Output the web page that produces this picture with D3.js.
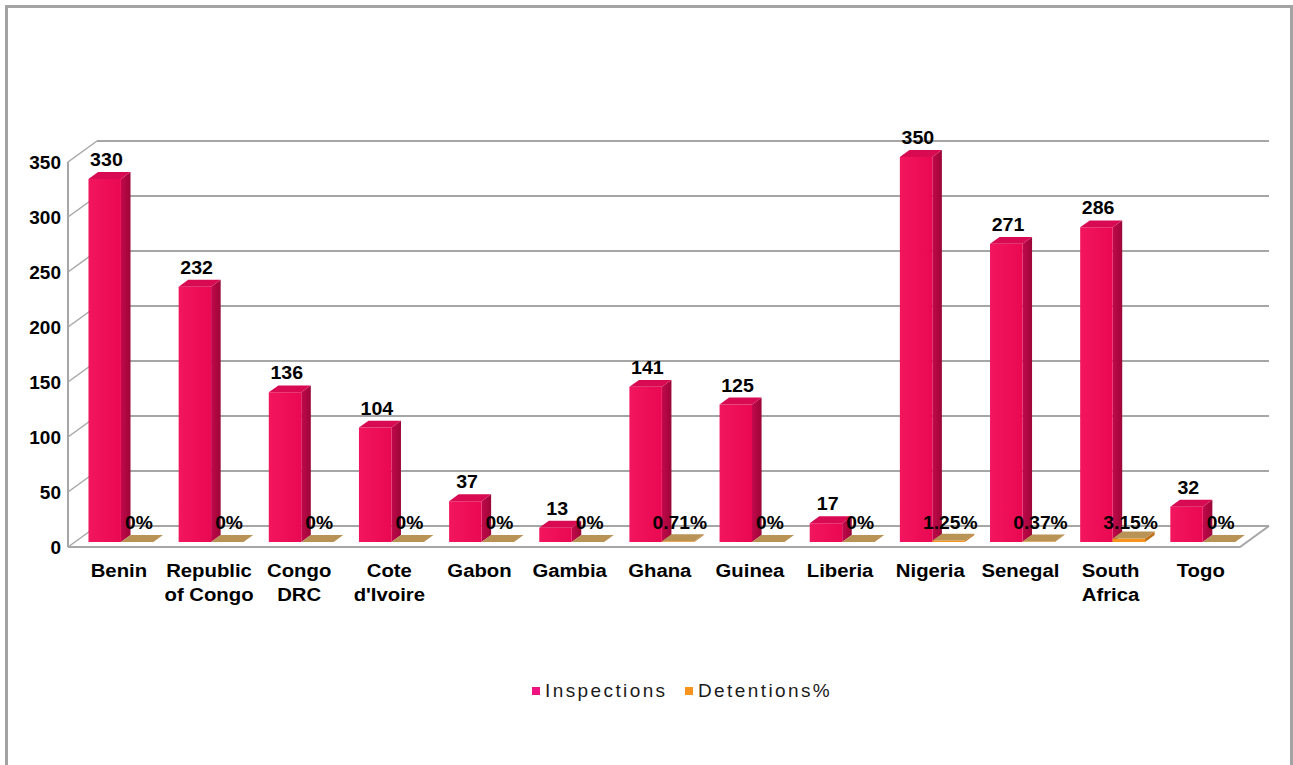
<!DOCTYPE html>
<html>
<head>
<meta charset="utf-8">
<script src="https://cdn.jsdelivr.net/npm/d3@7/dist/d3.min.js"></script>
<style>
  html, body { margin: 0; padding: 0; background: #ffffff; }
  svg { display: block; }
</style>
</head>
<body>
<script>
// Port state control: inspections and detention rate per country
const categories = ["Benin", "Republic of Congo", "Congo DRC", "Cote d'Ivoire", "Gabon", "Gambia",
  "Ghana", "Guinea", "Liberia", "Nigeria", "Senegal", "South Africa", "Togo"];
const categoryLines = [["Benin"], ["Republic", "of Congo"], ["Congo", "DRC"], ["Cote", "d'Ivoire"],
  ["Gabon"], ["Gambia"], ["Ghana"], ["Guinea"], ["Liberia"], ["Nigeria"], ["Senegal"], ["South", "Africa"], ["Togo"]];
const inspections = [330, 232, 136, 104, 37, 13, 141, 125, 17, 350, 271, 286, 32];
const detentions = [0, 0, 0, 0, 0, 0, 0.71, 0, 0, 1.25, 0.37, 3.15, 0];
const detentionLabels = ["0%", "0%", "0%", "0%", "0%", "0%", "0.71%", "0%", "0%", "1.25%", "0.37%", "3.15%", "0%"];
const seriesNames = ["Inspections", "Detentions%"];
const yTicks = [0, 50, 100, 150, 200, 250, 300, 350];

const W = 1293, H = 765;
const svg = d3.select("body").append("svg").attr("width", W).attr("height", H);

// depth projection of the 3D box
const DX = 29, DY = 21;
const x = d3.scaleBand().domain(categories).range([68, 1240]).padding(0);
const inner = d3.scaleBand().domain(seriesNames)
  .range([x.bandwidth() * 0.15, x.bandwidth() * 0.87]).padding(0);
const y = d3.scaleLinear().domain([0, 350]).range([547, 162]);
const P = (px, v, z) => [px + z * DX, y(v) - z * DY];

const defs = svg.append("defs");
const g1 = defs.append("linearGradient").attr("id", "insFront").attr("x1", 0).attr("x2", 1).attr("y1", 0).attr("y2", 0);
g1.append("stop").attr("offset", 0).attr("stop-color", "#f2165f");
g1.append("stop").attr("offset", 1).attr("stop-color", "#ea0852");
const g2 = defs.append("linearGradient").attr("id", "insSide").attr("x1", 0).attr("x2", 1).attr("y1", 0).attr("y2", 0);
g2.append("stop").attr("offset", 0).attr("stop-color", "#c2084b");
g2.append("stop").attr("offset", 1).attr("stop-color", "#9c0638");

const colors = {
  Inspections: { front: "url(#insFront)", side: "url(#insSide)", top: "#d80a52", legend: "#ee1282" },
  "Detentions%": { front: "#f7941d", side: "#c07018", top: "#b99256", legend: "#f7941d" }
};

// outer frame
svg.append("path").attr("d", `M6.5,${H + 5} V6.5 H1291.5 V${H + 5}`)
  .attr("fill", "none").attr("stroke", "#a3a3a3").attr("stroke-width", 3);

const grid = svg.append("g").attr("stroke", "#a6a6a6").attr("fill", "none");
// back wall gridlines
yTicks.forEach(t => {
  const a = P(68, t, 1), b = P(1240, t, 1);
  grid.append("line").attr("x1", a[0]).attr("y1", a[1]).attr("x2", b[0]).attr("y2", b[1]).attr("stroke-width", 2);
  // side wall tick diagonals
  const c = P(68, t, 0);
  grid.append("line").attr("x1", c[0]).attr("y1", c[1]).attr("x2", a[0]).attr("y2", a[1]).attr("stroke-width", 1.5);
});
// front vertical axis
grid.append("line").attr("x1", 68).attr("y1", y(0)).attr("x2", 68).attr("y2", y(350)).attr("stroke-width", 2);
// floor outline
const f0 = P(68, 0, 0), f1 = P(1240, 0, 0), f2 = P(1240, 0, 1);
grid.append("path").attr("d", `M${f0[0]},${f0[1]} L${f1[0]},${f1[1]} L${f2[0]},${f2[1]}`).attr("stroke-width", 2);

// y axis labels
svg.append("g").selectAll("text").data(yTicks).join("text")
  .attr("x", 61).attr("y", d => y(d) + 7)
  .attr("text-anchor", "end")
  .attr("font-family", "Liberation Sans, Arial, sans-serif").attr("font-weight", "bold").attr("font-size", 19)
  .attr("fill", "#000").text(d => d);

// 3D bars
const Z0 = 0.24, Z1 = 0.57;
const poly = pts => "M" + pts.map(p => p.join(",")).join("L") + "Z";
const bars = svg.append("g");
categories.forEach((c, i) => {
  [["Inspections", inspections[i]], ["Detentions%", detentions[i]]].forEach(([s, v]) => {
    const x0 = x(c) + inner(s), w = inner.bandwidth();
    const col = colors[s];
    const gb = bars.append("g");
    gb.append("path").attr("d", poly([P(x0 + w, 0, Z0), P(x0 + w, 0, Z1), P(x0 + w, v, Z1), P(x0 + w, v, Z0)]))
      .attr("fill", col.side);
    gb.append("path").attr("d", poly([P(x0, 0, Z0), P(x0 + w, 0, Z0), P(x0 + w, v, Z0), P(x0, v, Z0)]))
      .attr("fill", col.front);
    gb.append("path").attr("d", poly([P(x0, v, Z0), P(x0 + w, v, Z0), P(x0 + w, v, Z1), P(x0, v, Z1)]))
      .attr("fill", col.top);
  });
});

// value labels
const labelFont = sel => sel.attr("font-family", "Liberation Sans, Arial, sans-serif")
  .attr("font-weight", "bold").attr("fill", "#000").attr("text-anchor", "middle");
const labels = svg.append("g");
categories.forEach((c, i) => {
  const xi = x(c) + inner("Inspections") + inner.bandwidth() / 2 + 0.3 * DX;
  const yi = y(inspections[i]) - Z1 * DY - 6;
  labels.append("text").call(labelFont).attr("font-size", 17.5)
    .attr("transform", `translate(${xi},${yi}) scale(1.12,1)`).text(inspections[i]);
  // detention rates share one baseline just above the floor
  const xd = x(c) + inner("Detentions%") + inner.bandwidth() / 2 + 0.3 * DX;
  const yd = y(0) - Z1 * DY - 6;
  labels.append("text").call(labelFont).attr("font-size", 17.5)
    .attr("transform", `translate(${xd},${yd}) scale(1.1,1)`).text(detentionLabels[i]);
});

// category labels
const cats = svg.append("g");
categories.forEach((c, i) => {
  const cx = x(c) + x.bandwidth() / 2 + 0.2 * DX;
  categoryLines[i].forEach((line, k) => {
    cats.append("text").call(labelFont).attr("font-size", 19)
      .attr("transform", `translate(${cx},${577 + k * 24}) scale(1.07,1)`).text(line);
  });
});

// legend
const legend = svg.append("g").attr("font-family", "Liberation Sans, Arial, sans-serif").attr("font-size", 19);
const legendX = [532, 685];
seriesNames.forEach((s, i) => {
  legend.append("rect").attr("x", legendX[i]).attr("y", 687).attr("width", 8).attr("height", 8)
    .attr("fill", colors[s].legend);
  legend.append("text").attr("x", legendX[i] + 13).attr("y", 697)
    .attr("letter-spacing", 2.4).attr("fill", "#1a1a1a").text(s);
});
</script>
</body>
</html>
